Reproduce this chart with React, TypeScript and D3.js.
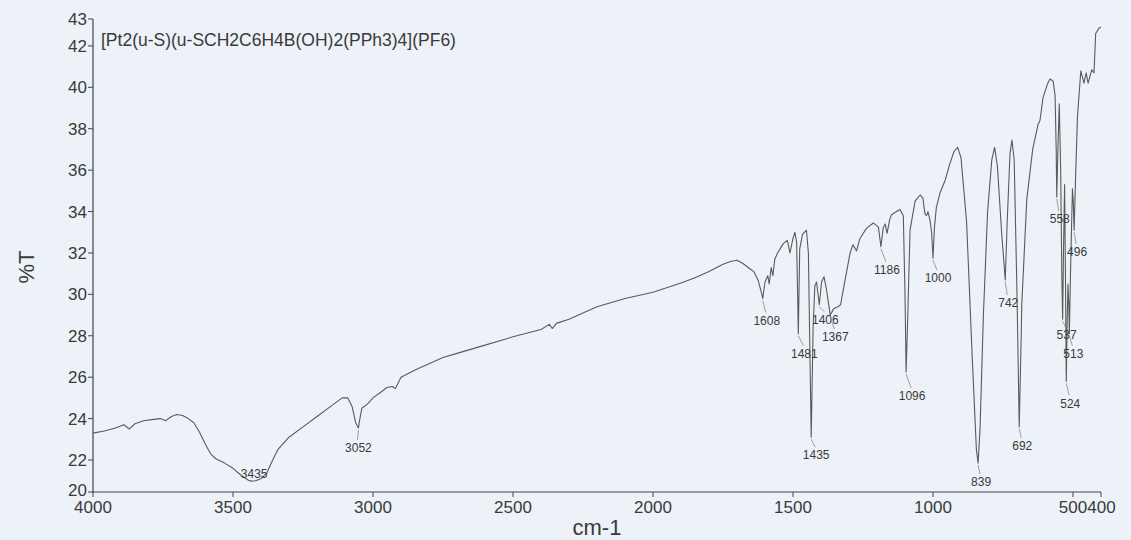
import React from "react";
import * as d3 from "d3";

const TITLE = "[Pt2(u-S)(u-SCH2C6H4B(OH)2(PPh3)4](PF6)";

const WAVENUMBERS = [
  4000, 3960, 3920, 3890, 3870, 3850, 3820, 3790, 3760, 3740, 3720, 3700, 3680, 3660, 3640, 3620, 3600, 3580,
  3560, 3530, 3500, 3470, 3445, 3435, 3420, 3400, 3380, 3360, 3340, 3300, 3250, 3200, 3150, 3110, 3090, 3075,
  3062, 3052, 3048, 3040, 3020, 3000, 2970, 2950, 2930, 2920, 2900, 2850, 2800, 2750, 2700, 2600, 2500, 2400,
  2370, 2360, 2345, 2300, 2200, 2100, 2000, 1900, 1850, 1800, 1750, 1720, 1700, 1680, 1660, 1640, 1625, 1615,
  1608, 1600, 1590, 1585, 1578, 1572, 1565, 1555, 1535, 1520, 1511, 1500, 1493, 1487, 1481, 1476, 1466, 1452,
  1445, 1435, 1428, 1422, 1416, 1406, 1398, 1389, 1380, 1367, 1355, 1340, 1330, 1314, 1296, 1286, 1273, 1261,
  1237, 1213, 1195, 1186, 1178, 1171, 1164, 1155, 1148, 1130, 1118, 1106, 1100, 1096, 1090, 1082, 1064, 1046,
  1036, 1029, 1023, 1018, 1011, 1005, 1000, 995, 988, 975, 957, 940, 925, 912, 900, 880, 860, 845, 839, 832,
  820, 805, 790, 780, 770, 755, 742, 735, 725, 718, 710, 700, 692, 685, 683, 665, 644, 625, 618, 607, 590, 582,
  571, 564, 560, 558, 554, 549, 544, 540, 537, 534, 530, 527, 524, 521, 518, 515, 513, 509, 502, 499, 496, 490,
  484, 472, 461, 453, 446, 433, 425, 419, 407, 400,
];

const TRANSMITTANCE = [
  23.3, 23.4, 23.55, 23.7, 23.5, 23.75, 23.9, 23.95, 24.0, 23.9, 24.1, 24.2, 24.15, 24.0, 23.8, 23.35, 22.8, 22.3,
  22.05, 21.85, 21.6, 21.25, 21.02, 20.98, 21.0, 21.1, 21.35, 21.95, 22.5, 23.1, 23.6, 24.1, 24.6, 25.0, 25.0, 24.6,
  23.8, 23.55, 23.9, 24.5, 24.7, 25.0, 25.3, 25.5, 25.55, 25.45, 26.0, 26.35, 26.65, 26.95, 27.15, 27.55, 27.95, 28.3,
  28.55, 28.35, 28.6, 28.8, 29.4, 29.8, 30.1, 30.55, 30.8, 31.1, 31.45, 31.6, 31.65, 31.5, 31.3, 31.1, 30.7, 30.2,
  29.8, 30.6, 30.9, 30.5, 31.3, 30.9, 31.7, 32.0, 32.45, 32.6, 32.0, 32.7, 33.0, 32.5, 28.1, 32.2, 32.9, 33.1,
  32.0, 23.1, 28.5, 30.4, 30.6, 29.5, 30.6, 30.85, 30.2, 29.0, 29.3, 29.4, 29.5, 30.7, 32.0, 32.4, 32.1, 32.7,
  33.2, 33.45, 33.25, 32.3, 33.2, 33.4, 32.95, 33.6, 33.85, 34.0, 34.1, 33.8, 30.0, 26.25, 29.0, 33.1, 34.5, 34.8,
  34.65, 33.9, 33.8, 34.0, 33.6, 33.0, 31.75, 33.2, 34.2, 34.9, 35.5, 36.3, 36.9, 37.1, 36.6, 33.5, 27.0, 22.5, 21.85, 23.5,
  29.0, 34.0, 36.5, 37.1, 36.2, 33.0, 30.7, 33.5, 36.8, 37.45, 36.5, 30.0, 23.6, 28.0, 29.5, 34.6, 37.0, 38.2, 38.4, 39.5, 40.2, 40.4,
  40.3, 39.6, 37.0, 34.7, 37.0, 39.2, 36.0, 31.0, 28.8, 32.0, 35.3, 31.0, 25.8, 28.5, 30.5, 29.5, 28.1, 31.0, 35.1, 34.5, 33.1, 36.0,
  38.6, 40.8, 40.2, 40.7, 40.2, 40.85, 40.7, 42.6, 42.86, 42.9,
];

const PEAK_WN = [3435, 3052, 1608, 1481, 1435, 1406, 1367, 1186, 1096, 1000, 839, 742, 692, 558, 537, 524, 513, 496];
// label placement relative to the band minimum (layout only)
const PEAK_LABEL_OFFSET: [number, number][] = [
  [3, -7], [0, 20], [4, 22], [6, 20], [5, 18], [6, 15], [5, 22], [6, 23], [6, 24], [5, 20],
  [3, 19], [3, 23], [3, 19], [3, 22], [4, 16], [4, 22], [4, 20], [3, 22],
];

const X_TICKS = [4000, 3500, 3000, 2500, 2000, 1500, 1000, 500];
const Y_TICKS = [22, 24, 26, 28, 30, 32, 34, 36, 38, 40, 42];
const X_DOMAIN: [number, number] = [4000, 400];
const Y_DOMAIN: [number, number] = [20.455, 43.3];
const X_END_LABEL = "400";
const Y_MIN_LABEL = "20";
const Y_MAX_LABEL = "43";

const W = 1131;
const H = 540;
const LEFT = 93;
const RIGHT = 1101;
const TOP = 19;
const BOTTOM = 492;

const FONT = "'Liberation Sans', Arial, Helvetica, sans-serif";
const INK = "#3a3a3a";

export default function App() {
  const x = d3.scaleLinear().domain(X_DOMAIN).range([LEFT, RIGHT]);
  const y = d3.scaleLinear().domain(Y_DOMAIN).range([BOTTOM, TOP]);
  const pts: [number, number][] = WAVENUMBERS.map((w, i) => [w, TRANSMITTANCE[i]]);
  const line = d3
    .line<[number, number]>()
    .x((d) => x(d[0]))
    .y((d) => y(d[1]));

  const peaks = PEAK_WN.map((wn, i) => {
    const idx = WAVENUMBERS.indexOf(wn);
    const t = TRANSMITTANCE[idx];
    const px = x(wn);
    const py = y(t);
    const [dx, dy] = PEAK_LABEL_OFFSET[i];
    return { wn, px, py, lx: px + dx, ly: py + dy };
  });

  const lastTick = X_TICKS[X_TICKS.length - 1];

  return (
    <svg
      width={W}
      height={H}
      style={{ position: "absolute", left: 0, top: 0, background: "#edf2f8" }}
      fontFamily={FONT}
    >
      <rect x={0} y={0} width={W} height={H} fill="#edf2f8" />
      {/* axes */}
      <line x1={LEFT} x2={LEFT} y1={TOP} y2={BOTTOM + 1} stroke="#444" strokeWidth={1.2} />
      <line x1={LEFT - 5} x2={RIGHT} y1={BOTTOM} y2={BOTTOM} stroke="#444" strokeWidth={1.2} />
      {/* y ticks */}
      {Y_TICKS.map((t) => (
        <g key={t}>
          <line x1={LEFT - 5} x2={LEFT} y1={y(t)} y2={y(t)} stroke="#444" />
          <text x={LEFT - 6} y={y(t)} dy="0.35em" textAnchor="end" fontSize={17} fill={INK}>
            {t}
          </text>
        </g>
      ))}
      <line x1={LEFT - 5} x2={LEFT} y1={TOP} y2={TOP} stroke="#444" />
      <text x={LEFT - 6} y={TOP} dy="0.35em" textAnchor="end" fontSize={17} fill={INK}>
        {Y_MAX_LABEL}
      </text>
      <text x={LEFT - 6} y={BOTTOM - 2} dy="0.35em" textAnchor="end" fontSize={17} fill={INK}>
        {Y_MIN_LABEL}
      </text>
      {/* x ticks */}
      {X_TICKS.map((t) => (
        <g key={t}>
          <line x1={x(t)} x2={x(t)} y1={BOTTOM} y2={BOTTOM + 5} stroke="#444" />
          <text x={x(t)} y={BOTTOM + 21} textAnchor="middle" fontSize={17} fill={INK}>
            {t}
          </text>
        </g>
      ))}
      <line x1={x(X_DOMAIN[1])} x2={x(X_DOMAIN[1])} y1={BOTTOM} y2={BOTTOM + 5} stroke="#444" />
      <text x={x(lastTick) + 14.3} y={BOTTOM + 21} textAnchor="start" fontSize={17} fill={INK}>
        {X_END_LABEL}
      </text>
      {/* axis titles */}
      <text x={597} y={535} textAnchor="middle" fontSize={22} fill={INK}>
        cm-1
      </text>
      <text transform="translate(34,267) rotate(-90)" textAnchor="middle" fontSize={22} fill={INK}>
        %T
      </text>
      {/* title */}
      <text x={101} y={46} fontSize={17.5} fill={INK}>
        {TITLE}
      </text>
      {/* spectrum */}
      <path d={line(pts) || ""} fill="none" stroke="#5a5a5a" strokeWidth={1.1} strokeLinejoin="round" />
      {/* peak labels */}
      {peaks.map((p) => (
        <g key={p.wn}>
          {p.ly > p.py + 8 && (
            <line x1={p.px} y1={p.py + 2} x2={p.lx - 1} y2={p.ly - 8} stroke="#888" strokeWidth={0.8} />
          )}
          <text x={p.lx} y={p.ly} dy="0.35em" textAnchor="middle" fontSize={12} fill={INK}>
            {p.wn}
          </text>
        </g>
      ))}
    </svg>
  );
}
